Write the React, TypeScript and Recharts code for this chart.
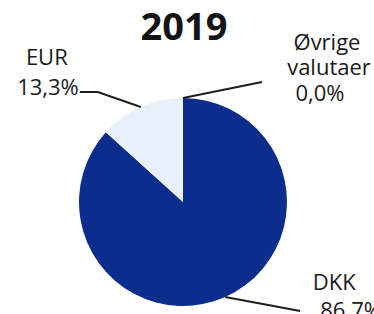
import React from 'react';
import { PieChart, Pie, Cell } from 'recharts';

const categories = ['DKK', 'EUR', 'Øvrige valutaer'];
const shares = [86.7, 13.3, 0.0];
const valueLabels = ['86.7%', '13,3%', '0,0%'];
const nameLines = [['DKK'], ['EUR'], ['Øvrige', 'valutaer']];
const colors = ['#0b2e8c', '#e8f0fa', '#c8d4e8'];
const title = '2019';

const data = categories.map((name, i) => ({ name, value: shares[i] }));

const FONT = '"Open Sans", sans-serif';
const RAD = Math.PI / 180;

// per-label layout: line points and text positions relative to the slice anchor
const labelLayout: Record<number, any> = {
  0: {
    line: [[75, 14]],
    texts: [
      { dx: 109, dy: -7, anchor: 'middle', kind: 'name', line: 0 },
      { dx: 95, dy: 21, anchor: 'start', kind: 'value' },
    ],
  },
  1: {
    line: [[-43, -15], [-61, -15]],
    texts: [
      { dx: -94, dy: -42, anchor: 'middle', kind: 'name', line: 0 },
      { dx: -62, dy: -12, anchor: 'end', kind: 'value' },
    ],
  },
  2: {
    line: [[79, -16]],
    texts: [
      { dx: 144, dy: -48, anchor: 'middle', kind: 'name', line: 0 },
      { dx: 146, dy: -23, anchor: 'middle', kind: 'name', line: 1 },
      { dx: 137, dy: 3, anchor: 'middle', kind: 'value' },
    ],
  },
};

const renderLabel = (props: any) => {
  const { cx, cy, midAngle, outerRadius, index } = props;
  const ax = cx + outerRadius * Math.cos(-midAngle * RAD);
  const ay = cy + outerRadius * Math.sin(-midAngle * RAD);
  const cfg = labelLayout[index];
  if (!cfg) return null;
  const pts = [[ax, ay], ...cfg.line.map((p: number[]) => [ax + p[0], ay + p[1]])];
  const d = pts.map((p: number[], i: number) => `${i ? 'L' : 'M'}${p[0]},${p[1]}`).join(' ');
  return (
    <g key={`lbl-${index}`}>
      <path d={d} stroke="#1e1e1e" strokeWidth={2} fill="none" />
      {cfg.texts.map((t: any, j: number) => (
        <text
          key={j}
          x={ax + t.dx}
          y={ay + t.dy}
          textAnchor={t.anchor}
          fontFamily={FONT}
          fontSize={22}
          fill="#1a1a1a"
        >
          {t.kind === 'name' ? nameLines[index][t.line] : valueLabels[index]}
        </text>
      ))}
    </g>
  );
};

export default function App() {
  return (
    <div style={{ position: 'absolute', left: 0, top: 0, background: '#fff' }}>
      <PieChart width={374} height={314} margin={{ top: 0, right: 0, bottom: 0, left: 0 }}>
        <text
          x={184}
          y={40}
          textAnchor="middle"
          fontFamily={FONT}
          fontWeight={700}
          fontSize={38}
          fill="#141414"
        >
          {title}
        </text>
        <Pie
          data={data}
          dataKey="value"
          nameKey="name"
          cx={183}
          cy={202}
          outerRadius={104}
          startAngle={90}
          endAngle={-270}
          stroke="none"
          label={renderLabel}
          labelLine={false}
          isAnimationActive={false}
        >
          {data.map((d, i) => (
            <Cell key={d.name} fill={colors[i]} />
          ))}
        </Pie>
      </PieChart>
    </div>
  );
}
